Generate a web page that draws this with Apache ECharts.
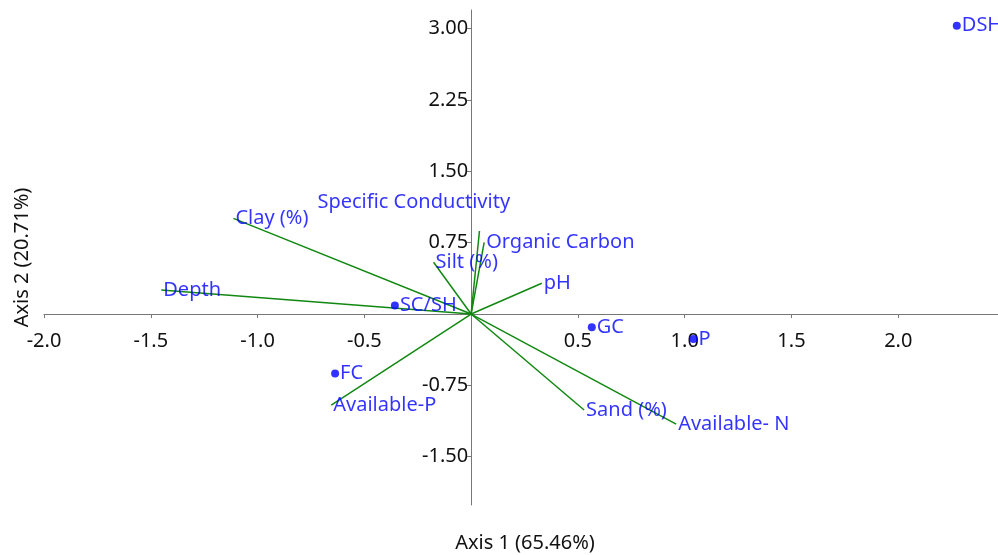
<!DOCTYPE html>
<html>
<head>
<meta charset="utf-8">
<script src="https://cdn.jsdelivr.net/npm/echarts@6/dist/echarts.min.js"></script>
<style>html,body{margin:0;padding:0;background:#fff}#c{width:998px;height:555px}</style>
</head>
<body>
<div id="c"></div>
<script>
const pointNames = ['DSH', 'GC', 'P', 'SC/SH', 'FC'];
const pointX = [2.274, 0.565, 1.041, -0.357, -0.637];
const pointY = [3.032, -0.140, -0.263, 0.091, -0.624];

const vectorNames = ['Clay (%)', 'Depth', 'Available-P', 'Silt (%)', 'Specific Conductivity', 'Organic Carbon', 'pH', 'Sand (%)', 'Available- N'];
const vectorX = [-1.113, -1.451, -0.655, -0.176, 0.039, 0.061, 0.331, 0.529, 0.960];
const vectorY = [1.006, 0.252, -0.957, 0.544, 0.873, 0.754, 0.324, -1.009, -1.157];

const xTicks = [-2.0, -1.5, -1.0, -0.5, 0.5, 1.0, 1.5, 2.0];
const yTicks = [-1.5, -0.75, 0.75, 1.5, 2.25, 3.0];
const xTitle = 'Axis 1 (65.46%)';
const yTitle = 'Axis 2 (20.71%)';

const FONT = 'Noto Sans';
const FS = 20;
const BLUE = '#0000ff';
const GREEN = '#118811';

const W = 998, H = 555;
const G = { left: 44, right: 0, top: 10, bottom: 50 };
const X_MIN = -2.0, X_MAX = 2.467, Y_MIN = -2.008, Y_MAX = 3.197;
const plotW = W - G.left - G.right, plotH = H - G.top - G.bottom;
// axes cross at zero: shift each axis from its grid edge to the zero line
const xAxisOffset = -(plotH * (0 - Y_MIN) / (Y_MAX - Y_MIN));
const yAxisOffset = -(plotW * (0 - X_MIN) / (X_MAX - X_MIN));

const chart = echarts.init(document.getElementById('c'));

const series = [];
vectorNames.forEach((n, i) => {
  series.push({
    type: 'line',
    data: [[0, 0], [vectorX[i], vectorY[i]]],
    showSymbol: false,
    symbol: 'none',
    lineStyle: { color: GREEN, width: 1.5 },
    silent: true,
    animation: false,
    z: 2
  });
});
series.push({
  type: 'scatter',
  data: vectorNames.map((n, i) => {
    const item = { name: n, value: [vectorX[i], vectorY[i]] };
    if (n === 'Specific Conductivity') {
      item.label = { offset: [-164, -29] };
    }
    return item;
  }),
  symbolSize: 0,
  label: {
    show: true, position: 'right', distance: 2,
    formatter: p => p.name,
    color: BLUE, fontFamily: FONT, fontSize: FS
  },
  animation: false, z: 4
});
series.push({
  type: 'scatter',
  data: pointNames.map((n, i) => ({ name: n, value: [pointX[i], pointY[i]] })),
  symbolSize: 8,
  itemStyle: { color: BLUE },
  label: {
    show: true, position: 'right', distance: 1,
    formatter: p => p.name,
    color: BLUE, fontFamily: FONT, fontSize: FS
  },
  animation: false, z: 5
});

chart.setOption({
  animation: false,
  backgroundColor: '#fff',
  grid: { left: G.left, right: G.right, top: G.top, bottom: G.bottom, containLabel: false, outerBoundsMode: 'none' },
  xAxis: {
    type: 'value', min: X_MIN, max: X_MAX,
    offset: xAxisOffset,
    axisLine: { onZero: false, lineStyle: { color: '#777', width: 1 } },
    axisTick: { show: true, length: 4, customValues: xTicks, lineStyle: { color: '#777' } },
    axisLabel: { customValues: xTicks, formatter: v => v.toFixed(1), color: '#111', fontFamily: FONT, fontSize: FS, margin: 17 },
    splitLine: { show: false },
    name: xTitle, nameLocation: 'middle', nameGap: 219,
    nameTextStyle: { color: '#111', fontFamily: FONT, fontSize: FS, padding: [0, 0, 0, 8] }
  },
  yAxis: {
    type: 'value', min: Y_MIN, max: Y_MAX,
    offset: yAxisOffset,
    axisLine: { onZero: false, lineStyle: { color: '#777', width: 1 } },
    axisTick: { show: true, length: 4, customValues: yTicks, lineStyle: { color: '#777' } },
    axisLabel: { customValues: yTicks, formatter: v => v.toFixed(2), color: '#111', fontFamily: FONT, fontSize: FS, margin: 3 },
    splitLine: { show: false },
    name: yTitle, nameLocation: 'middle', nameGap: 439,
    nameTextStyle: { color: '#111', fontFamily: FONT, fontSize: FS }
  },
  series: series
});
</script>
</body>
</html>
